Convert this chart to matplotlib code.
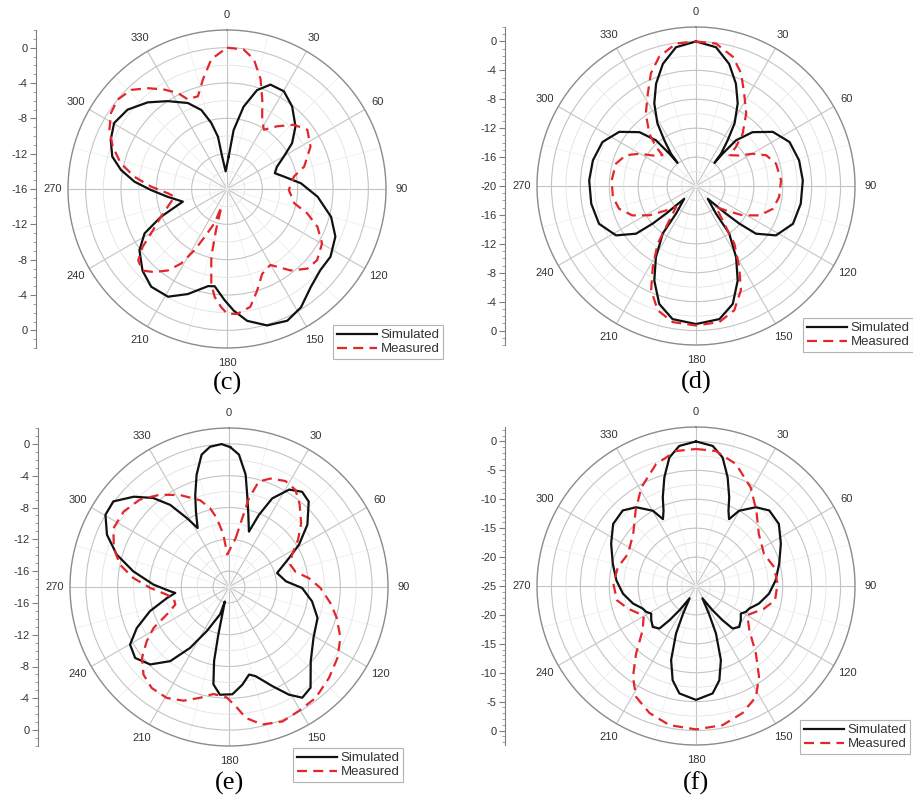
import numpy as np
import matplotlib
matplotlib.use("Agg")
import matplotlib.pyplot as plt
from matplotlib.lines import Line2D
from matplotlib.ticker import MultipleLocator, FixedLocator

plt.rcParams["font.family"] = ["Liberation Sans", "DejaVu Sans"]

W, H = 913, 799
R = 159            # outer ring radius in pixels
RED = "#e3262e"

# ---- (c) radiation pattern, dB vs angle (deg, clockwise from top)
c_sim_deg = [3, 6.4, 11.4, 16.9, 22.6, 30.2, 38.3, 47.6, 54.9, 60.3, 65.9, 71.7, 77.7,
             85.6, 94.9, 105, 113.7, 123.2, 131, 139.5, 148, 155.4, 163.6, 171.3, 176.8,
             181.2, 187.2, 191, 200.5, 208.7, 217.8, 226, 235, 241.7, 247.2, 254, 262.6,
             269.2, 274.5, 280.2, 285.8, 293, 300.3, 308.6, 317.5, 326, 335.5, 342,
             346.6, 350.2, 351.5, 355.6]
c_sim_db = [-12.3, -9.3, -6.5, -4.3, -3.2, -3.2, -4.1, -5.5, -7.0, -8.6, -9.8, -10.3,
            -9.4, -7.6, -5.7, -3.8, -2.6, -2.0, -2.0, -1.4, -0.2, 0.4, 0.1, -0.9, -2.2,
            -3.4, -4.9, -4.8, -3.3, -2.1, -2.0, -2.7, -3.9, -5.4, -7.9, -10.8, -9.2,
            -7.4, -5.5, -3.8, -2.5, -1.7, -1.2, -1.6, -2.7, -4.0, -5.3, -6.6, -8.3,
            -10.0, -12.3, -14.0]
c_meas_deg = [0, 6.8, 11.7, 17, 21.5, 26.9, 31.9, 38.7, 46.2, 53.6, 63.1, 73.8, 79.5,
              90.9, 102, 106.9, 112.7, 119.8, 128.3, 134.8, 142, 150.3, 157.5, 163.5,
              168.8, 175.4, 180, 182.8, 186.5, 189.4, 193, 195, 197.5, 200, 205, 207.9,
              211.6, 216, 221.2, 226, 231.2, 235.5, 239.6, 247.2, 253.3, 261.7, 265.8,
              271.8, 277.6, 283.7, 290.4, 296.7, 303.2, 309.2, 316, 321.9, 327.8, 332.9,
              336.3, 342.6, 347.6, 353.1]
c_meas_db = [0.0, -0.1, -1.0, -3.0, -5.1, -7.2, -8.1, -6.9, -5.5, -4.7, -5.4, -6.9,
             -8.3, -9.0, -8.2, -6.5, -4.9, -3.6, -3.0, -3.2, -4.3, -6.1, -5.6, -4.0,
             -2.4, -1.8, -1.9, -2.6, -3.7, -5.1, -8.1, -11.2, -13.9, -11.9, -10.0, -8.2,
             -6.1, -4.6, -3.5, -2.7, -3.1, -4.4, -6.0, -7.9, -9.0, -10.0, -9.3, -7.4,
             -5.4, -3.6, -2.2, -1.1, -0.3, 0.0, -0.4, -1.5, -2.7, -3.8, -4.9, -5.0,
             -3.3, -1.2]

# ---- (d)
d_sim_deg = [0, 8.2, 15.2, 21.3, 26.8, 31.6, 34.7, 37.7, 38.6, 39.5, 41.2, 46.4, 54.8,
             64.8, 76, 87, 99.6, 111.3, 121.7, 128.5, 131, 132.7, 137.4, 144.1, 145,
             150.6, 156.2, 162.7, 170, 180, 190, 197.3, 203.8, 209.4, 215, 215.9, 222.6,
             227.3, 229, 231.5, 238.3, 248.7, 260.4, 273, 284, 295.2, 305.2, 313.6,
             318.8, 320.5, 321.4, 322.3, 325.3, 328.4, 333.2, 338.7, 344.8, 351.8]
d_sim_db = [0.0, -0.6, -2.5, -4.8, -7.2, -9.8, -12.3, -14.3, -15.9, -14.2, -11.6, -9.2,
            -7.0, -5.7, -5.3, -5.2, -5.3, -5.6, -7.0, -9.4, -12.1, -14.4, -17.6, -15.3,
            -12.0, -8.7, -5.7, -2.9, -1.3, -0.9, -1.3, -2.9, -5.7, -8.7, -12.0, -15.3,
            -17.6, -14.4, -12.1, -9.4, -7.0, -5.6, -5.3, -5.2, -5.3, -5.7, -7.0, -9.2,
            -11.6, -14.2, -15.9, -14.3, -12.3, -9.8, -7.2, -4.8, -2.5, -0.6]
d_meas_deg = [0, 8, 15.9, 21.8, 27.6, 34.7, 41.7, 45.7, 47.4, 54.7, 60.3, 66.3, 74.4,
              86.2, 97.5, 106.5, 114.8, 122.2, 129, 136.4, 143.8, 146.4, 151.9, 156.7,
              162.9, 170.3, 180, 189.7, 197.1, 203.3, 208.1, 213.6, 216.2, 223.6, 231,
              237.8, 245.2, 253.5, 262.5, 273.8, 285.6, 293.7, 299.7, 305.3, 312.6,
              314.3, 318.3, 325.3, 332.4, 338.2, 344.1, 352]
d_meas_db = [0.0, -0.1, -1.4, -3.2, -5.6, -7.8, -10.3, -12.3, -13.7, -12.7, -11.0, -9.4,
             -8.5, -8.2, -8.4, -8.9, -10.3, -12.4, -14.6, -16.0, -13.0, -10.4, -7.3,
             -4.3, -2.0, -0.9, -0.7, -0.9, -2.0, -4.3, -7.3, -10.4, -13.0, -16.0, -14.6,
             -12.4, -10.3, -8.9, -8.4, -8.3, -8.5, -9.4, -11.0, -12.7, -13.7, -12.3,
             -10.3, -7.8, -5.6, -3.2, -1.4, -0.1]

# ---- (e)
e_sim_deg = [0.5, 4.3, 8.4, 11.2, 15, 19.8, 22.5, 26, 31.7, 37.5, 43, 51.5, 58.8, 64.2,
             73.8, 84.3, 90.8, 99.8, 109.3, 121, 132.3, 141, 146.5, 150.9, 156.4, 163.4,
             167.1, 172.2, 178.2, 184.8, 189.1, 191.4, 192.6, 196, 198, 206.7, 212.6,
             218.4, 225.5, 232.9, 239.8, 246, 253, 260, 263.7, 265.8, 271.8, 279.3,
             286.1, 293.2, 300.3, 306.5, 313.5, 319.6, 324.4, 328.5, 332, 336.4, 339.8,
             343.9, 348.3, 352.3, 357]
e_sim_db = [-0.4, -1.3, -3.7, -6.2, -8.6, -10.6, -8.2, -5.6, -3.6, -2.9, -3.3, -5.4,
            -7.7, -9.6, -11.7, -10.8, -8.8, -7.4, -6.2, -5.6, -4.1, -1.7, -1.3, -2.5,
            -4.4, -6.3, -6.7, -5.6, -4.5, -4.4, -5.6, -8.5, -11.8, -16.1, -14.4, -11.8,
            -8.9, -6.1, -4.1, -3.2, -3.6, -5.3, -7.6, -10.1, -11.2, -10.6, -8.5, -5.8,
            -3.3, -1.3, 0.0, 0.1, -1.5, -3.3, -5.3, -7.8, -9.6, -7.6, -5.7, -3.3, -1.0,
            -0.2, 0.0]
e_meas_deg = [7.8, 10.9, 12.7, 15.8, 20.9, 28, 34.4, 40.4, 48.6, 55.7, 62.9, 70, 77.3,
              83.6, 90.6, 98.9, 106, 114.5, 123.2, 132.3, 142, 150.6, 158.3, 166.4,
              172.7, 176.8, 181.2, 188.3, 194.6, 201.8, 209.3, 217.4, 224.3, 230.9,
              236.6, 241.5, 246, 251.9, 258.8, 263, 269.3, 275.4, 281.6, 288.6, 297,
              305.6, 314.5, 323.2, 332, 341.6, 346.5, 349.9, 353.8, 357]
e_meas_db = [-11.8, -9.2, -6.5, -4.2, -3.4, -2.9, -3.2, -4.3, -5.9, -7.5, -9.1, -9.8,
             -9.4, -7.9, -6.5, -5.1, -3.9, -2.6, -1.7, -1.0, -0.3, -0.1, 0.2, -0.2,
             -1.4, -3.0, -4.1, -4.4, -3.6, -2.6, -2.0, -2.0, -2.6, -3.9, -5.6, -7.2,
             -9.4, -10.9, -10.9, -10.1, -8.1, -5.9, -4.0, -2.7, -1.7, -1.7, -2.3, -3.5,
             -4.9, -6.5, -7.8, -9.2, -11.3, -13.9]

# ---- (f)
f_sim_deg = [0, 6.8, 11.7, 16.2, 20.5, 23.3, 26.3, 29.8, 37.2, 44.1, 53.2, 63.5, 75,
             86, 96, 105.6, 113, 117.5, 121.6, 127, 133.4, 139.3, 142.2, 145.6, 152.5,
             155, 157.2, 161.4, 166.1, 171.2, 180, 188.8, 193.9, 198.6, 202.8, 205,
             207.5, 214.4, 217.8, 220.7, 226.6, 233, 238.4, 242.5, 247, 254.4, 264, 274,
             285, 296.5, 306.8, 315.9, 322.8, 330.2, 333.7, 336.7, 339.5, 343.8, 348.3,
             353.2]
f_sim_db = [0.0, -0.6, -2.3, -5.4, -8.6, -10.8, -12.1, -10.0, -7.9, -6.8, -7.1, -8.6,
            -10.1, -11.2, -12.3, -13.7, -15.0, -15.3, -15.9, -15.3, -14.7, -15.3, -17.5,
            -19.9, -22.6, -19.7, -16.1, -11.5, -8.2, -6.2, -5.3, -6.2, -8.2, -11.5,
            -16.1, -19.7, -22.6, -19.9, -17.5, -15.3, -14.7, -15.3, -15.9, -15.3, -15.0,
            -13.7, -12.3, -11.2, -10.1, -8.6, -7.1, -6.8, -7.9, -10.0, -12.1, -10.8,
            -8.6, -5.4, -2.3, -0.6]
f_meas_deg = [0, 8.4, 18.1, 29, 38.7, 50.4, 64.7, 76.4, 88.4, 100.2, 108.4, 119.6,
              129.7, 138.4, 145.2, 151.6, 159.9, 169.2, 180, 190.8, 200.1, 208.4, 214.8,
              221.6, 230.3, 240.4, 251.6, 259.8, 271.6, 283.6, 295.3, 309.6, 321.3, 331,
              341.9, 351.6]
f_meas_db = [-1.3, -1.4, -2.8, -5.5, -8.3, -10.9, -12.0, -11.1, -10.9, -11.1, -12.6,
             -14.8, -13.0, -9.4, -5.9, -3.2, -1.6, -0.5, -0.2, -0.5, -1.6, -3.2, -5.9,
             -9.4, -13.0, -14.6, -12.6, -11.1, -10.7, -11.1, -12.0, -10.9, -8.3, -5.5,
             -2.8, -1.4]

panels = [
    dict(tag="(c)", center=(227, 189), rlim=(-16, 2), step=4, axis_x=36,
         sim=(c_sim_deg, c_sim_db), meas=(c_meas_deg, c_meas_db),
         legend=(333, 325), label_y=383),
    dict(tag="(d)", center=(696, 186), rlim=(-20, 2), step=4, axis_x=505,
         sim=(d_sim_deg, d_sim_db), meas=(d_meas_deg, d_meas_db),
         legend=(803, 318), label_y=382),
    dict(tag="(e)", center=(229, 587), rlim=(-18, 2), step=4, axis_x=38,
         sim=(e_sim_deg, e_sim_db), meas=(e_meas_deg, e_meas_db),
         legend=(293, 748), label_y=783),
    dict(tag="(f)", center=(696, 586), rlim=(-25, 2.5), step=5, axis_x=505,
         sim=(f_sim_deg, f_sim_db), meas=(f_meas_deg, f_meas_db),
         legend=(800, 720), label_y=783),
]


def closed(deg, db):
    t = np.radians(list(deg) + [deg[0] + 360])
    return t, list(db) + [db[0]]


fig = plt.figure(figsize=(W / 100, H / 100), dpi=100)

for p in panels:
    cx, cy = p["center"]
    rmin, rmax = p["rlim"]
    step = p["step"]

    ax = fig.add_axes([(cx - R) / W, 1 - (cy + R) / H, 2 * R / W, 2 * R / H],
                      projection="polar")
    ax.set_theta_zero_location("N")
    ax.set_theta_direction(-1)
    ax.set_ylim(rmin, rmax)
    ax.set_xticks(np.radians(np.arange(0, 360, 30)))
    ax.set_xticklabels([str(a) for a in range(0, 360, 30)])
    ax.xaxis.set_minor_locator(FixedLocator(np.radians(np.arange(15, 360, 30))))
    ax.set_yticks(np.arange(0, rmin, -step)[::-1])
    ax.yaxis.set_minor_locator(MultipleLocator(step / 2))
    ax.set_yticklabels([])
    ax.grid(which="major", color="#c4c4c4", lw=0.8)
    ax.grid(which="minor", axis="y", color="#e2e2e2", lw=0.6)
    ax.grid(which="minor", axis="x", color="#ededed", lw=0.5)
    ax.spines["polar"].set_color("#8c8c8c")
    ax.spines["polar"].set_linewidth(1.0)
    ax.tick_params(axis="x", which="both", labelsize=8, labelcolor="#333333",
                   pad=4, length=0)
    ax.tick_params(axis="y", which="both", length=0)

    t, r = closed(*p["sim"])
    ax.plot(t, r, color="#111111", lw=1.6, zorder=3)
    t, r = closed(*p["meas"])
    ax.plot(t, r, color=RED, lw=1.6, dashes=(4.5, 2.8), zorder=4)

    # straight dB scale on the left, mirrored about the centre
    span = rmax - rmin
    lax = fig.add_axes([p["axis_x"] / W, 1 - (cy + R) / H, 0.0005, 2 * R / H])
    lax.set_ylim(-span, span)
    vals = np.arange(0, rmin - 0.01, -step)
    pos, labels = [], []
    for v in vals:
        d = v - rmin
        pos.append(d)
        labels.append(f"{v:g}")
        if d > 0:
            pos.append(-d)
            labels.append(f"{v:g}")
    lax.set_yticks(pos)
    lax.set_yticklabels(labels)
    lax.yaxis.set_minor_locator(MultipleLocator(1))
    lax.set_xticks([])
    for s in ("top", "right", "bottom"):
        lax.spines[s].set_visible(False)
    lax.spines["left"].set_color("#808080")
    lax.tick_params(axis="y", which="major", length=4, color="#808080",
                    labelsize=8, labelcolor="#333333", pad=2)
    lax.tick_params(axis="y", which="minor", length=2, color="#909090")
    lax.patch.set_visible(False)

    handles = [Line2D([], [], color="#111111", lw=1.6),
               Line2D([], [], color=RED, lw=1.6, dashes=(4.5, 2.8))]
    lx, ly = p["legend"]
    leg = fig.legend(handles, ["Simulated", "Measured"], loc="upper left",
                     bbox_to_anchor=(lx / W, 1 - ly / H), frameon=True,
                     fancybox=False, fontsize=9.5, handlelength=3.0,
                     handletextpad=0.3, borderpad=0.3, labelspacing=0.15,
                     borderaxespad=0)
    leg.get_frame().set_edgecolor("#a0a0a0")
    leg.get_frame().set_linewidth(0.8)
    for txt in leg.get_texts():
        txt.set_color("#333333")

    fig.text(cx / W, 1 - p["label_y"] / H, p["tag"], ha="center", va="center",
             family="Liberation Serif", fontsize=19)

fig.savefig("out.png", dpi=100)
